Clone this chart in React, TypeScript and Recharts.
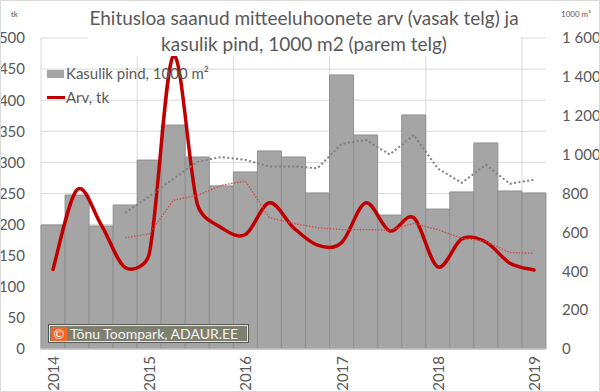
import React from 'react';
import { ComposedChart, Bar, Line, XAxis, YAxis, CartesianGrid } from 'recharts';

// kvartalid 2014 I ... 2019 I
const quarters = [
  '2014 I', '2014 II', '2014 III', '2014 IV',
  '2015 I', '2015 II', '2015 III', '2015 IV',
  '2016 I', '2016 II', '2016 III', '2016 IV',
  '2017 I', '2017 II', '2017 III', '2017 IV',
  '2018 I', '2018 II', '2018 III', '2018 IV',
  '2019 I',
];
const yearLabels = [
  '2014', '', '', '', '2015', '', '', '', '2016', '', '', '',
  '2017', '', '', '', '2018', '', '', '', '2019',
];

// kasulik pind, 1000 m2 (parem telg)
const pind = [638, 792, 633, 741, 972, 1152, 988, 839, 911, 1019, 988, 803, 1410, 1101, 689, 1204, 720, 808, 1060, 813, 803];
// arv, tk (vasak telg)
const arv = [128, 256, 200, 131, 153, 471, 233, 195, 184, 235, 195, 167, 171, 235, 190, 211, 132, 177, 172, 138, 127];
// 4 kvartali libisevad keskmised (trendijooned)
const pindTrend = [null, null, null, 701, 785, 875, 963, 988, 973, 939, 939, 930, 1055, 1076, 1001, 1101, 929, 855, 948, 850, 871];
const arvTrend = [null, null, null, 179, 185, 239, 247, 263, 270, 211, 202, 195, 192, 192, 191, 202, 192, 178, 173, 155, 154];

const leftTicks = [0, 50, 100, 150, 200, 250, 300, 350, 400, 450, 500];
const rightTicks = [0, 200, 400, 600, 800, 1000, 1200, 1400, 1600];

const data = quarters.map((q, i) => ({
  q,
  label: yearLabels[i],
  pind: pind[i],
  arv: arv[i],
  pindTrend: pindTrend[i],
  arvTrend: arvTrend[i],
}));

const FONT = 'Lato, "Liberation Sans", sans-serif';
const TEXT = '#595959';

// Excel-like smoothing: Catmull-Rom, tangents shortened next to short segments
const excelSmooth = (context: any) => {
  let pts: number[][] = [];
  const limit = (t: number[], len: number) => {
    const m = Math.hypot(t[0], t[1]);
    const max = len * 0.45;
    return m > max && m > 0 ? [(t[0] * max) / m, (t[1] * max) / m] : t;
  };
  return {
    areaStart() {},
    areaEnd() {},
    lineStart() {
      pts = [];
    },
    point(x: number, y: number) {
      pts.push([+x, +y]);
    },
    lineEnd() {
      if (!pts.length) return;
      context.moveTo(pts[0][0], pts[0][1]);
      for (let i = 0; i < pts.length - 1; i++) {
        const p0 = pts[i - 1] || pts[i];
        const p1 = pts[i];
        const p2 = pts[i + 1];
        const p3 = pts[i + 2] || p2;
        const len = Math.hypot(p2[0] - p1[0], p2[1] - p1[1]);
        const t1 = limit([(p2[0] - p0[0]) / 6, (p2[1] - p0[1]) / 6], len);
        const t2 = limit([(p3[0] - p1[0]) / 6, (p3[1] - p1[1]) / 6], len);
        context.bezierCurveTo(p1[0] + t1[0], p1[1] + t1[1], p2[0] - t2[0], p2[1] - t2[1], p2[0], p2[1]);
      }
    },
  };
};

const fmtThousands = (v: number) => {
  if (v < 1000) return String(v);
  return `${Math.floor(v / 1000)} ${String(v % 1000).padStart(3, '0')}`;
};

const YearTick = ({ x, y, payload, index }: any) => {
  const label = yearLabels[index ?? payload?.index ?? 0];
  if (!label) return null;
  return (
    <text
      transform={`translate(${x},${y + 3}) rotate(-90)`}
      textAnchor="end"
      dominantBaseline="central"
      fontSize={15}
      fontFamily={FONT}
      fill={TEXT}
    >
      {label}
    </text>
  );
};

export default function App() {
  return (
    <div style={{ position: 'absolute', left: 0, top: 0, width: 600, height: 392, background: '#fff', fontFamily: FONT }}>
      <ComposedChart
        width={600}
        height={392}
        data={data}
        margin={{ top: 38, right: 0, bottom: 0, left: 0 }}
        barCategoryGap={0}
        barGap={0}
      >
        <CartesianGrid
          xAxisId="cat"
          yAxisId="left"
          stroke="#d9d9d9"
          verticalCoordinatesGenerator={({ offset }: any) => {
            const left = offset?.left ?? 41;
            const w = offset?.width ?? 505;
            return [0, 4, 8, 12, 16, 20].map((i) => left + (w / quarters.length) * i);
          }}
        />
        <XAxis
          xAxisId="cat"
          dataKey="q"
          interval={0}
          height={43}
          tickSize={0}
          tickMargin={4}
          axisLine={{ stroke: '#d9d9d9' }}
          tickLine={false}
          tick={<YearTick />}
        />
        <YAxis
          yAxisId="left"
          orientation="left"
          width={41}
          domain={[0, 500]}
          ticks={leftTicks}
          interval={0}
          axisLine={false}
          tickLine={false}
          tickSize={0}
          tickMargin={16}
          tick={{ fontSize: 15, fill: TEXT, fontFamily: FONT }}
        />
        <YAxis
          yAxisId="right"
          orientation="right"
          width={54}
          domain={[0, 1600]}
          ticks={rightTicks}
          interval={0}
          axisLine={false}
          tickLine={false}
          tickSize={0}
          tickMargin={16}
          tickFormatter={fmtThousands}
          tick={{ fontSize: 15, fill: TEXT, fontFamily: FONT, textAnchor: 'start' }}
        />
        <Bar
          xAxisId="cat"
          yAxisId="right"
          dataKey="pind"
          fill="#a5a5a5"
          stroke="#8f8f8f"
          strokeWidth={1}
          isAnimationActive={false}
        />
        <Line
          xAxisId="cat"
          yAxisId="left"
          dataKey="arv"
          type={excelSmooth as any}
          stroke="#c00000"
          strokeWidth={3.5}
          strokeLinecap="round"
          dot={false}
          activeDot={false}
          isAnimationActive={false}
        />
        <Line
          xAxisId="cat"
          yAxisId="right"
          dataKey="pindTrend"
          type="linear"
          stroke="#7f7f7f"
          strokeWidth={2}
          strokeDasharray="2 2.4"
          dot={false}
          activeDot={false}
          isAnimationActive={false}
        />
        <Line
          xAxisId="cat"
          yAxisId="left"
          dataKey="arvTrend"
          type="linear"
          stroke="#d04a4a"
          strokeWidth={1.3}
          strokeDasharray="1.5 1.5"
          dot={false}
          activeDot={false}
          isAnimationActive={false}
        />
      </ComposedChart>

      {/* pealkiri valge taustaga */}
      <div
        style={{
          position: 'absolute', left: 88, top: 0, width: 432, height: 56, background: '#fff',
          color: TEXT, fontSize: 19, lineHeight: '26px', textAlign: 'center', paddingTop: 5, boxSizing: 'border-box',
        }}
      >
        Ehitusloa saanud mitteeluhoonete arv (vasak telg) ja
        <br />
        kasulik pind, 1000 m2 (parem telg)
      </div>

      {/* telje ühikud */}
      <div style={{ position: 'absolute', left: 11, top: 9, fontSize: 8, color: TEXT }}>tk</div>
      <div style={{ position: 'absolute', left: 561, top: 9, fontSize: 8, color: TEXT }}>1000 m²</div>

      {/* legend */}
      <div style={{ position: 'absolute', left: 47, top: 62, fontSize: 15, color: TEXT, lineHeight: '23px' }}>
        <div style={{ display: 'flex', alignItems: 'center' }}>
          <span style={{ display: 'inline-block', width: 17, height: 8, background: '#a5a5a5', marginRight: 2 }} />
          Kasulik pind, 1000 m²
        </div>
        <div style={{ display: 'flex', alignItems: 'center', marginTop: 1 }}>
          <span style={{ display: 'inline-block', width: 18, height: 3.5, background: '#c00000', marginRight: 1 }} />
          Arv, tk
        </div>
      </div>

      {/* autoriõigus */}
      <div
        style={{
          position: 'absolute', left: 49, top: 325, width: 199, height: 17, boxSizing: 'border-box',
          background: '#7f7f6f', border: '1px solid #e6e6e6', outline: '1px solid #555',
          display: 'flex', alignItems: 'center', color: '#f4f4f4', fontSize: 14,
        }}
      >
        <span
          style={{
            display: 'inline-flex', alignItems: 'center', justifyContent: 'center',
            width: 16, height: 14, background: '#f26522', color: '#fff', fontSize: 13, marginLeft: 1, marginRight: 3,
          }}
        >
          ©
        </span>
        Tõnu Toompark, ADAUR.EE
      </div>

      <div style={{ position: 'absolute', left: 0, top: 0, width: 600, height: 392, border: '1px solid #d9d9d9', boxSizing: 'border-box', pointerEvents: 'none' }} />
    </div>
  );
}
